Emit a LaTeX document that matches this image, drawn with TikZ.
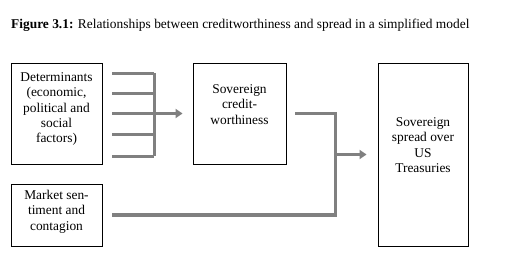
\documentclass[tikz,border=0pt]{standalone}
\usepackage{fontspec}
\setmainfont{Liberation Serif}
\usetikzlibrary{positioning, calc, arrows.meta}
\definecolor{Bar}{HTML}{808080}
\definecolor{Ink}{HTML}{000000}
\tikzset{
    framebox/.style={rectangle, draw=Ink, line width=0.9pt, inner sep=0pt},
    boxtext/.style={align=center, text=Ink, inner sep=0pt, font=\fontsize{13.4}{15.3}\selectfont},
    bar/.style={draw=Bar, line width=3.5pt},
    bararrow/.style={bar, -{Triangle[length=7pt, width=9pt]}},
}

\begin{document}
\begin{tikzpicture}[x=1pt, y=-1pt]
                \useasboundingbox (0,0) rectangle (519,275);

                % Titolo
                \node[anchor=base west, inner sep=0pt, font=\fontsize{13.4}{15}\selectfont] (title) at (11,29) {\textbf{Figure 3.1:} Relationships between creditworthiness and spread in a simplified model};

                % Riquadri
                \node[framebox, minimum width=91, minimum height=101] (det) at (56.5,113.5) {};
                \node[framebox, minimum width=93, minimum height=101] (credit) at (239.5,113.5) {};
                \node[framebox, minimum width=91, minimum height=62] (market) at (56.5,215) {};
                \node[framebox, minimum width=90, minimum height=183] (spread) at (423,154.5) {};

                % Testi (base = ultima riga)
                \node[boxtext, anchor=base] (dettext) at ($(det.north)+(0,80.2)$) {Determinants\\(economic,\\political and\\social\\factors)};
                \node[boxtext, anchor=base] (credittext) at ($(credit.north)+(0,61.6)$) {Sovereign\\credit-\\worthiness};
                \node[boxtext, anchor=base] (markettext) at ($(market.north)+(0,46.6)$) {Market sen-\\timent and\\contagion};
                \node[boxtext, anchor=base] (spreadtext) at ($(spread.north)+(0,109.9)$) {Sovereign\\spread over\\US\\Treasuries};

                % Pettine dei fattori
                \coordinate (fan) at ($(det.east)+(52,0)$);
                \foreach \y in {-40,-20,0,21,43} \draw[bar] ($(det.east)+(10,\y)$) -- ($(fan)+(0,\y)$);
                \draw[bar] ($(fan)+(0,-40)$) -- ($(fan)+(0,43)$);
                \draw[bararrow, shorten >=10pt] (fan) -- (credit.west);

                % Confluenza verso lo spread
                \coordinate (join) at ($(spread.west)+(-42,0)$);
                \draw[bar] ($(credit.east)+(9,0)$) -| (join |- market.east) -- ($(market.east)+(10,0)$);
                \draw[bararrow, shorten >=11pt] (join) -- (spread.west);
            \end{tikzpicture}
\end{document}
